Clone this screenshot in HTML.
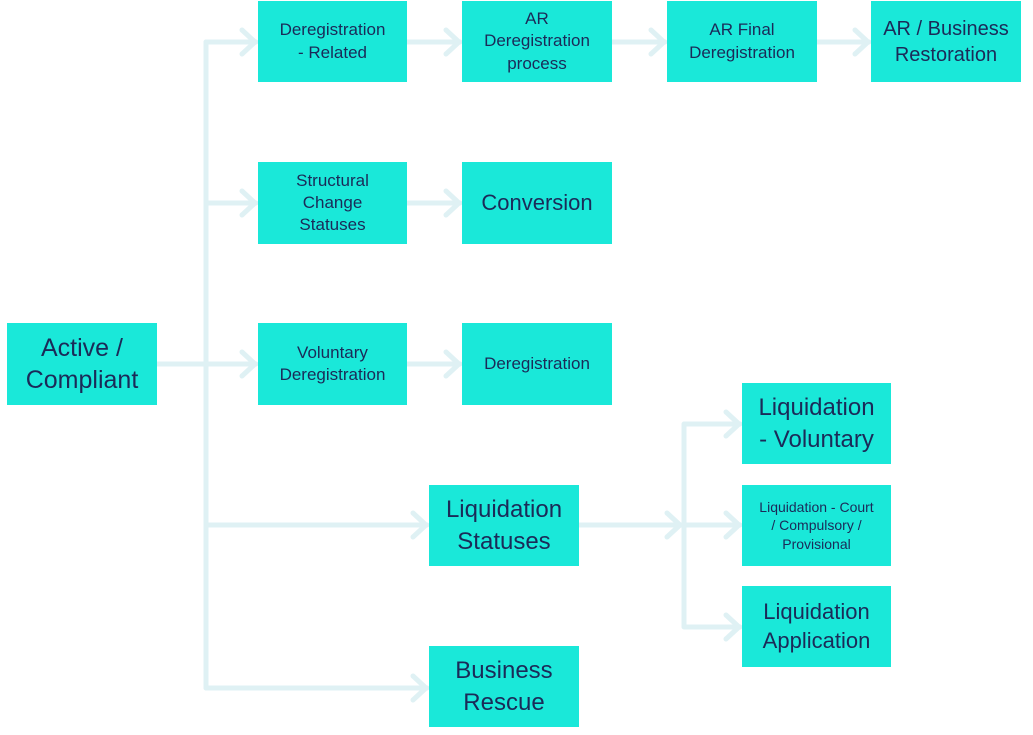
<!DOCTYPE html>
<html><head><style>
body{margin:0;background:#fff;width:1033px;height:735px;overflow:hidden;position:relative;font-family:"Liberation Sans",sans-serif}
.b{position:absolute;background:#1ae8d9;color:#1b2a58;display:flex;align-items:center;justify-content:center;text-align:center;line-height:1.3;box-sizing:border-box;padding:0 4px}
svg{position:absolute;left:0;top:0}
</style></head><body>
<svg width="1033" height="735" fill="none" stroke="#dff1f4" stroke-width="5" stroke-linecap="round" stroke-linejoin="round">
<path d="M157 364H206M206 42V688"/>
<path d="M206 42H256M206 203H256M206 364H256M206 525H427M206 688H427"/>
<path d="M407 42H460M612 42H665M817 42H869M407 203H460M407 364H460"/>
<path d="M579 525H682M684 424V627M684 424H740M684 525H740M684 627H740"/>
<path d="M242 30L255 42L242 54M242 191L255 203L242 215M242 352L255 364L242 376M413 513L426 525L413 537M413 676L426 688L413 700"/>
<path d="M446 30L459 42L446 54M651 30L664 42L651 54M855 30L868 42L855 54M446 191L459 203L446 215M446 352L459 364L446 376"/>
<path d="M667 513L680 525L667 537M726 412L739 424L726 436M726 513L739 525L726 537M726 615L739 627L726 639"/>
</svg>
<div class="b" style="left:7px;top:323px;width:150px;height:82px;font-size:25px">Active /<br>Compliant</div>
<div class="b" style="left:258px;top:1px;width:149px;height:81px;font-size:17px">Deregistration<br>- Related</div>
<div class="b" style="left:462px;top:1px;width:150px;height:81px;font-size:17px">AR<br>Deregistration<br>process</div>
<div class="b" style="left:667px;top:1px;width:150px;height:81px;font-size:17px">AR Final<br>Deregistration</div>
<div class="b" style="left:871px;top:1px;width:150px;height:81px;font-size:20px">AR / Business<br>Restoration</div>
<div class="b" style="left:258px;top:162px;width:149px;height:82px;font-size:17px">Structural<br>Change<br>Statuses</div>
<div class="b" style="left:462px;top:162px;width:150px;height:82px;font-size:22px">Conversion</div>
<div class="b" style="left:258px;top:323px;width:149px;height:82px;font-size:17px">Voluntary<br>Deregistration</div>
<div class="b" style="left:462px;top:323px;width:150px;height:82px;font-size:17px">Deregistration</div>
<div class="b" style="left:429px;top:485px;width:150px;height:81px;font-size:24px">Liquidation<br>Statuses</div>
<div class="b" style="left:429px;top:646px;width:150px;height:81px;font-size:24px">Business<br>Rescue</div>
<div class="b" style="left:742px;top:383px;width:149px;height:81px;font-size:24px">Liquidation<br>- Voluntary</div>
<div class="b" style="left:742px;top:485px;width:149px;height:81px;font-size:14px">Liquidation - Court<br>/ Compulsory /<br>Provisional</div>
<div class="b" style="left:742px;top:586px;width:149px;height:81px;font-size:22px">Liquidation<br>Application</div>
</body></html>
